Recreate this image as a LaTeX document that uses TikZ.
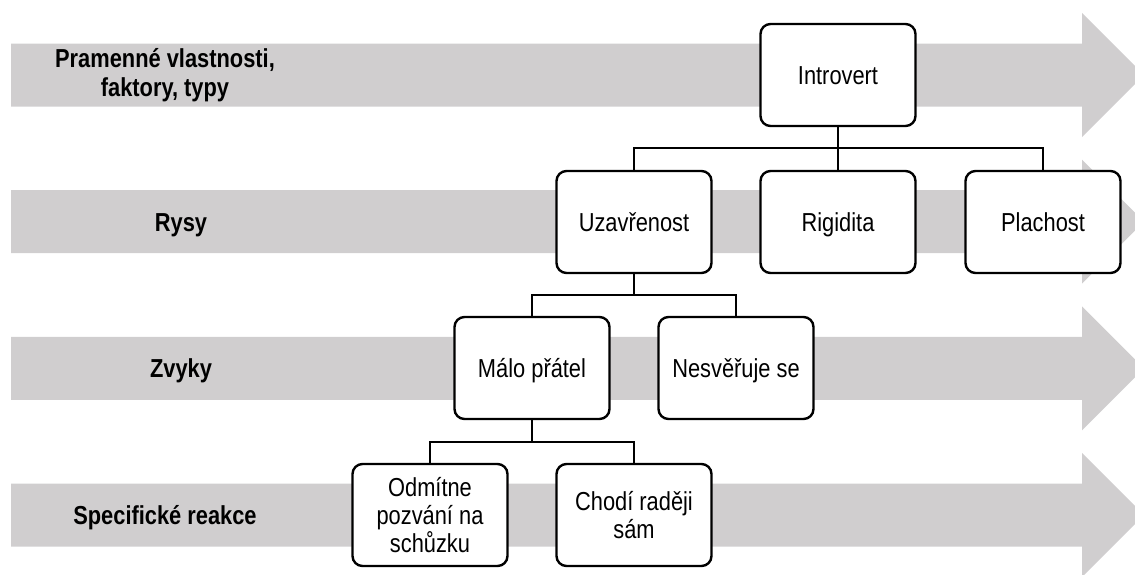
\documentclass[tikz,border=0pt]{standalone}
\usepackage{fontspec}
\setmainfont{Liberation Sans}
\newfontfamily\tallsans[FakeStretch=0.84]{Liberation Sans}
\usepackage{tikz}
\definecolor{bandgray}{RGB}{208,206,207}
\tikzset{
  box/.style={draw,fill=white,rounded corners=10pt,line width=2.4pt,
    minimum width=155pt,minimum height=102pt,align=center,
    font=\tallsans\fontsize{26}{28}\selectfont},
  oneline/.style={text height=23pt,text depth=4.4pt},
  level/.style={align=center,font=\tallsans\fontsize{26}{29}\selectfont\bfseries},
  link/.style={line width=2.4pt}
}
\begin{document}
\begin{tikzpicture}[x=1pt,y=-1pt]
  \useasboundingbox (0,0) rectangle (1135,574);
  \begin{scope}
    \clip (0,0) rectangle (1135,574);
    \foreach \yc in {75,221.7,368.3,515}
      \fill[bandgray] (11,\yc-31.5) -- (1082,\yc-31.5) -- (1082,\yc-62)
        -- (1144,\yc) -- (1082,\yc+62) -- (1082,\yc+31.5) -- (11,\yc+31.5) -- cycle;
  \end{scope}
  % levels
  \node[level] (lprim) at (165,75) {Pramenné vlastnosti,\\faktory, typy};
  \node[level,oneline] (lrys)  at (181,222) {Rysy};
  \node[level,oneline] (lzvy)  at (181,368) {Zvyky};
  \node[level,oneline] (lspec) at (165,515) {Specifické reakce};
  % boxes
  \node[box,oneline] (intro) at (838,75)  {Introvert};
  \node[box,oneline] (uzav)  at (634,222) {Uzavřenost};
  \node[box,oneline] (rig)   at (838,222) {Rigidita};
  \node[box,oneline] (plach) at (1043,222) {Plachost};
  \node[box,oneline] (malo)  at (532,368) {Málo přátel};
  \node[box,oneline] (nesv)  at (736,368) {Nesvěřuje se};
  \node[box] (odm)   at (430,515) {Odmítne\\pozvání na\\schůzku};
  \node[box] (chodi) at (634,515) {Chodí raději\\sám};
  % links
  \draw[link] (intro.south) -- (rig.north);
  \draw[link] (intro.south) -- ++(0,21) -| (uzav.north);
  \draw[link] (intro.south) -- ++(0,21) -| (plach.north);
  \draw[link] (uzav.south) -- ++(0,21) -| (malo.north);
  \draw[link] (uzav.south) -- ++(0,21) -| (nesv.north);
  \draw[link] (malo.south) -- ++(0,22) -| (odm.north);
  \draw[link] (malo.south) -- ++(0,22) -| (chodi.north);
\end{tikzpicture}
\end{document}
